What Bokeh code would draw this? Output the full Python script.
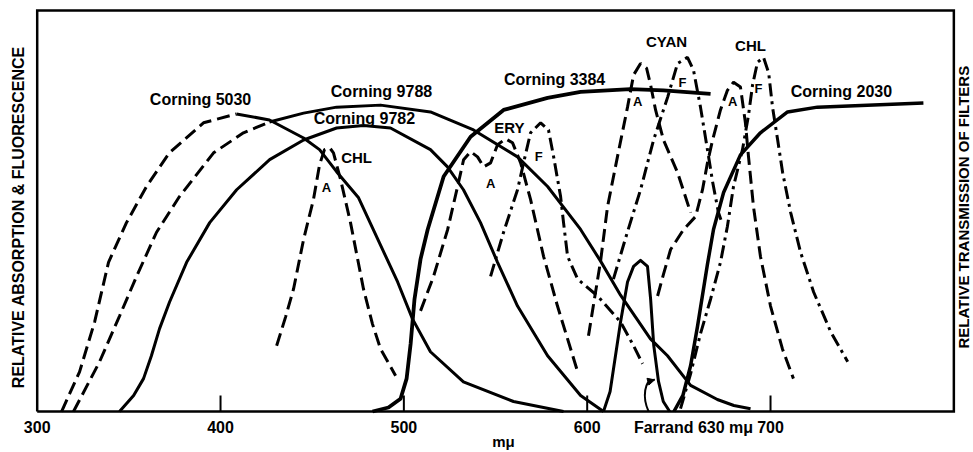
import math
from bokeh.plotting import figure
from bokeh.models import Range1d, FixedTicker, Arrow, NormalHead
from bokeh.core.properties import value
from bokeh.embed import file_html
from bokeh.resources import INLINE

# ---- filter transmission curves (wavelength in m-mu, relative %) ----
c5030_rise_x = [313.3, 323.1, 331.3, 338.9, 348.7, 359.6, 372.1, 390.7, 408.7]
c5030_rise_y = [0.0, 9.9, 22.3, 37.2, 47.1, 56.1, 64.5, 72.0, 74.2]
c5030_fall_x = [408.7, 426.7, 445.3, 454.0, 463.3, 475.3, 496.6, 504.7, 514.5, 532.5, 559.8, 587.1]
c5030_fall_y = [74.2, 72.7, 68.2, 65.3, 59.8, 53.3, 32.3, 23.1, 14.9, 7.4, 2.5, 0.0]

c9788_rise_x = [319.8, 334.0, 344.9, 354.2, 365.1, 377.6, 396.2, 412.5, 426.7]
c9788_rise_y = [0.0, 12.4, 23.8, 33.7, 44.7, 53.6, 64.5, 69.5, 72.2]
c9788_fall_x = [426.7, 445.3, 463.3, 487.3, 514.5, 538.0, 562.0, 578.4, 596.4, 607.3, 618.2, 634.5, 643.8, 656.4, 671.0, 680.0, 689.1]
c9788_fall_y = [72.2, 74.4, 75.9, 76.4, 74.7, 70.2, 63.5, 56.1, 45.4, 37.5, 29.0, 18.1, 13.9, 6.5, 3.0, 1.5, 0.7]

c9782_x = [344.9, 352.6, 358.0, 362.3, 366.7, 372.2, 381.5, 394.1, 408.8, 426.8, 445.3, 463.3, 478.0, 492.7, 514.5, 523.8, 532.5, 541.8, 551.1, 562.0, 578.4, 596.4, 608.9]
c9782_y = [0.0, 4.0, 8.2, 13.9, 20.6, 27.3, 37.2, 47.1, 55.3, 62.8, 67.7, 70.7, 71.3, 70.7, 65.3, 61.0, 55.3, 47.1, 37.2, 26.3, 13.9, 4.0, 0.0]

c3384_x = [482.9, 491.6, 498.2, 501.5, 503.7, 505.8, 509.1, 513.0, 521.7, 536.4, 554.4, 578.4, 596.4, 623.6, 641.6, 667.3]
c3384_y = [0.0, 1.0, 3.2, 8.2, 16.9, 28.0, 38.0, 45.4, 58.6, 68.5, 75.2, 78.2, 79.7, 80.4, 80.1, 79.2]

c2030_x = [647.3, 652.2, 656.4, 660.2, 665.6, 668.9, 674.4, 683.6, 694.5, 709.3, 725.6, 783.4]
c2030_y = [0.0, 4.0, 11.4, 21.3, 36.7, 45.4, 54.6, 64.0, 69.5, 74.7, 75.9, 76.9]

farrand_x = [608.9, 612.5, 614.3, 618.2, 622.0, 625.3, 629.1, 632.9, 634.6, 636.3, 638.9, 641.5, 645.0]
farrand_y = [0.0, 5.0, 10.5, 22.3, 32.3, 36.2, 37.7, 36.2, 28.0, 16.5, 7.5, 2.5, 0.0]

# ---- pigment absorption (A) and fluorescence (F) curves ----
chl_blue_a_x = [430.6, 435.5, 439.8, 445.3, 450.7, 454.0, 456.7, 459.5, 461.6, 465.5, 470.9, 478.0, 482.9, 487.3, 495.5]
chl_blue_a_y = [16.4, 23.6, 30.5, 42.9, 52.9, 61.5, 65.3, 65.8, 64.5, 57.8, 47.1, 30.5, 21.8, 15.6, 8.9]

ery_a_x = [509.1, 516.2, 523.9, 529.3, 532.6, 536.4, 540.2, 543.5, 547.3, 551.1, 555.5, 559.3, 563.7, 569.1, 576.2, 583.8, 589.3, 594.8]
ery_a_y = [25.1, 33.7, 45.4, 56.1, 62.8, 64.8, 63.5, 61.0, 62.0, 66.5, 68.0, 67.0, 62.0, 52.9, 38.7, 26.3, 18.1, 9.9]

ery_f_x = [547.3, 554.4, 562.0, 565.3, 569.1, 574.6, 578.9, 581.7, 585.5, 587.1, 589.3, 594.8, 605.7, 618.2, 625.3, 630.2]
ery_f_y = [33.7, 44.7, 55.3, 62.0, 69.5, 72.0, 70.2, 63.5, 53.6, 47.1, 38.7, 33.0, 28.8, 22.3, 16.4, 11.9]

cyan_a_x = [600.7, 607.3, 611.1, 616.5, 622.0, 625.3, 629.1, 632.4, 634.6, 637.3, 641.6, 649.3, 656.4]
cyan_a_y = [18.9, 37.5, 51.1, 63.5, 75.9, 83.9, 86.8, 85.6, 81.4, 75.2, 67.7, 59.6, 49.6]

cyan_f_x = [614.3, 621.9, 629.1, 636.2, 643.9, 649.3, 654.7, 658.0, 661.8, 665.6, 668.4, 671.6, 673.8]
cyan_f_y = [33.0, 44.7, 55.3, 67.7, 78.4, 86.8, 88.3, 85.1, 75.9, 65.3, 57.3, 49.6, 46.7]

chl_red_a_x = [638.4, 641.6, 645.5, 652.6, 659.1, 662.9, 665.6, 668.4, 672.7, 676.5, 679.8, 683.6, 686.3, 688.0, 690.7, 694.5, 700.0, 706.5, 712.5]
chl_red_a_y = [28.8, 34.2, 40.4, 45.4, 48.6, 55.3, 62.0, 67.7, 75.2, 80.1, 82.1, 80.9, 72.0, 63.5, 51.1, 38.7, 26.3, 15.6, 8.2]

chl_f_x = [650.9, 656.4, 661.8, 667.3, 672.7, 676.5, 679.8, 684.7, 688.0, 690.2, 692.9, 696.2, 699.0, 701.1, 703.9, 706.6, 711.0, 716.4, 723.5, 732.8, 742.1]
chl_f_y = [0.7, 9.4, 19.4, 28.0, 37.2, 46.2, 56.1, 65.3, 73.9, 81.4, 87.1, 88.3, 84.4, 75.9, 67.7, 59.6, 49.6, 39.7, 29.8, 19.9, 12.4]

# ---- axes ----
x_min, x_max = 300, 800          # plotted wavelength span (box)
y_min, y_max = 0, 100            # relative scale (box)
tick_values = [300, 400, 500, 600, 700]
tick_labels = ["300", "400", "500", "600", "700"]
inner_tick_values = [400, 500, 600, 700]
inner_tick_len = 4.0
farrand_lbl_x = 658
farrand_lbl_text = "Farrand 630 m\u03bc"
x_unit = "m\u03bc"
left_title = "RELATIVE  ABSORPTION  &  FLUORESCENCE"
right_title = "RELATIVE  TRANSMISSION  OF  FILTERS"
right_title_x, right_title_y = 805.0, 52.5

# ---- curve labels ----
big_lbl_text = ["Corning 5030", "Corning 9788", "Corning 9782", "Corning 3384", "Corning 2030"]
big_lbl_x = [389.1, 487.8, 478.5, 582.2, 738.7]
big_lbl_y = [77.9, 79.9, 73.0, 82.9, 79.7]

mid_lbl_text = ["CHL", "ERY", "CYAN", "CHL"]
mid_lbl_x = [474.2, 557.6, 643.3, 689.1]
mid_lbl_y = [63.3, 70.7, 92.3, 91.3]

small_lbl_text = ["A", "A", "F", "A", "F", "A", "F"]
small_lbl_x = [457.8, 547.3, 573.5, 627.5, 652.0, 679.3, 693.4]
small_lbl_y = [55.8, 56.8, 63.5, 77.2, 82.1, 77.2, 80.6]

# arrow from Farrand label to its curve
arrow_x0, arrow_y0 = 633.5, 0.0
arrow_cx0, arrow_cy0 = 630.0, 3.5
arrow_cx1, arrow_cy1 = 631.0, 8.0
arrow_x1, arrow_y1 = 636.8, 7.9

FONT = "Liberation Sans"

# scale: 1.8333 px per m-mu, 4.03 px per unit; frame padded so the box lines are not clipped
PXX = 1.8333
PXY = 4.03
x_start = x_min - 3.7 / PXX
x_end = x_min + (973 - 36.7) / PXX
y_start = y_min - 3.0 / PXY
y_end = y_max + 4.0 / PXY

p = figure(width=973, height=452, x_range=Range1d(x_start, x_end), y_range=Range1d(y_start, y_end),
           output_backend="svg", toolbar_location=None,
           min_border_left=33, min_border_right=0, min_border_top=6, min_border_bottom=36)
p.xgrid.visible = False
p.ygrid.visible = False
p.outline_line_color = None
p.background_fill_color = "white"
p.border_fill_color = "white"

all_ticks = tick_values + [farrand_lbl_x]
overrides = {v: l for v, l in zip(tick_values, tick_labels)}
overrides[farrand_lbl_x] = farrand_lbl_text

xa = p.xaxis[0]
xa.ticker = FixedTicker(ticks=all_ticks)
xa.major_label_overrides = overrides
xa.major_tick_in = 0
xa.major_tick_out = 0
xa.minor_tick_line_color = None
xa.axis_line_color = None
xa.major_label_text_font = FONT
xa.major_label_text_font_style = "bold"
xa.major_label_text_font_size = "16px"
xa.major_label_text_color = "black"
xa.major_label_standoff = 4
xa.axis_label = x_unit
xa.axis_label_text_font = FONT
xa.axis_label_text_font_style = "bold"
xa.axis_label_text_font_size = "15px"
xa.axis_label_text_color = "black"
xa.axis_label_standoff = -6

ya = p.yaxis[0]
ya.ticker = FixedTicker(ticks=[])
ya.major_tick_in = 0
ya.major_tick_out = 0
ya.minor_tick_line_color = None
ya.axis_line_color = None
ya.major_label_standoff = 0
ya.axis_label = left_title
ya.axis_label_text_font = FONT
ya.axis_label_text_font_style = "bold"
ya.axis_label_text_font_size = "16px"
ya.axis_label_text_color = "black"
ya.axis_label_standoff = 7

# plot box
p.line([x_min, x_max, x_max, x_min, x_min], [y_min, y_min, y_max, y_max, y_min],
       line_width=2.5, line_color="black", line_join="miter")

# inner tick marks
p.segment(x0=inner_tick_values, y0=[y_min] * len(inner_tick_values),
          x1=inner_tick_values, y1=[y_min + inner_tick_len] * len(inner_tick_values),
          line_width=2, line_color="black")

LW = 3
DASH = "13 6"
DOTDASH = "13 5 3 5"

# filters
p.line(c5030_rise_x, c5030_rise_y, line_width=LW, color="black", line_dash=DASH)
p.line(c5030_fall_x, c5030_fall_y, line_width=LW, color="black", line_join="round")
p.line(c9788_rise_x, c9788_rise_y, line_width=LW, color="black", line_dash=DASH)
p.line(c9788_fall_x, c9788_fall_y, line_width=LW, color="black", line_join="round")
p.line(c9782_x, c9782_y, line_width=LW, color="black", line_join="round")
p.line(c3384_x, c3384_y, line_width=3.8, color="black", line_join="round")
p.line(c2030_x, c2030_y, line_width=3.5, color="black", line_join="round")
p.line(farrand_x, farrand_y, line_width=LW, color="black", line_join="round")

# pigments
p.line(chl_blue_a_x, chl_blue_a_y, line_width=LW, color="black", line_dash=DASH)
p.line(ery_a_x, ery_a_y, line_width=LW, color="black", line_dash=DASH)
p.line(ery_f_x, ery_f_y, line_width=LW, color="black", line_dash=DOTDASH)
p.line(cyan_a_x, cyan_a_y, line_width=LW, color="black", line_dash=DASH)
p.line(cyan_f_x, cyan_f_y, line_width=LW, color="black", line_dash=DOTDASH)
p.line(chl_red_a_x, chl_red_a_y, line_width=LW, color="black", line_dash=DASH)
p.line(chl_f_x, chl_f_y, line_width=LW, color="black", line_dash=DOTDASH)

# arrow
p.bezier(x0=[arrow_x0], y0=[arrow_y0], x1=[arrow_x1], y1=[arrow_y1],
         cx0=[arrow_cx0], cy0=[arrow_cy0], cx1=[arrow_cx1], cy1=[arrow_cy1],
         line_width=2, line_color="black")
p.add_layout(Arrow(x_start=arrow_x1 - 0.8, y_start=arrow_y1 - 0.1, x_end=arrow_x1, y_end=arrow_y1,
                   line_width=2, line_color="black",
                   end=NormalHead(size=7, fill_color="black", line_color="black")))

p.text(big_lbl_x, big_lbl_y, text=big_lbl_text, text_font=value(FONT), text_font_style="bold",
       text_font_size="16px", text_align="center", text_baseline="middle", text_color="black")
p.text(mid_lbl_x, mid_lbl_y, text=mid_lbl_text, text_font=value(FONT), text_font_style="bold",
       text_font_size="15px", text_align="center", text_baseline="middle", text_color="black")
p.text(small_lbl_x, small_lbl_y, text=small_lbl_text, text_font=value(FONT), text_font_style="bold",
       text_font_size="13px", text_align="center", text_baseline="middle", text_color="black")

# right-hand title, reading bottom to top
p.text([right_title_x], [right_title_y], text=[right_title], angle=math.pi / 2,
       text_font=value(FONT), text_font_style="bold", text_font_size="15px",
       text_align="center", text_baseline="middle", text_color="black")

open("out.html", "w").write(file_html(p, INLINE))
